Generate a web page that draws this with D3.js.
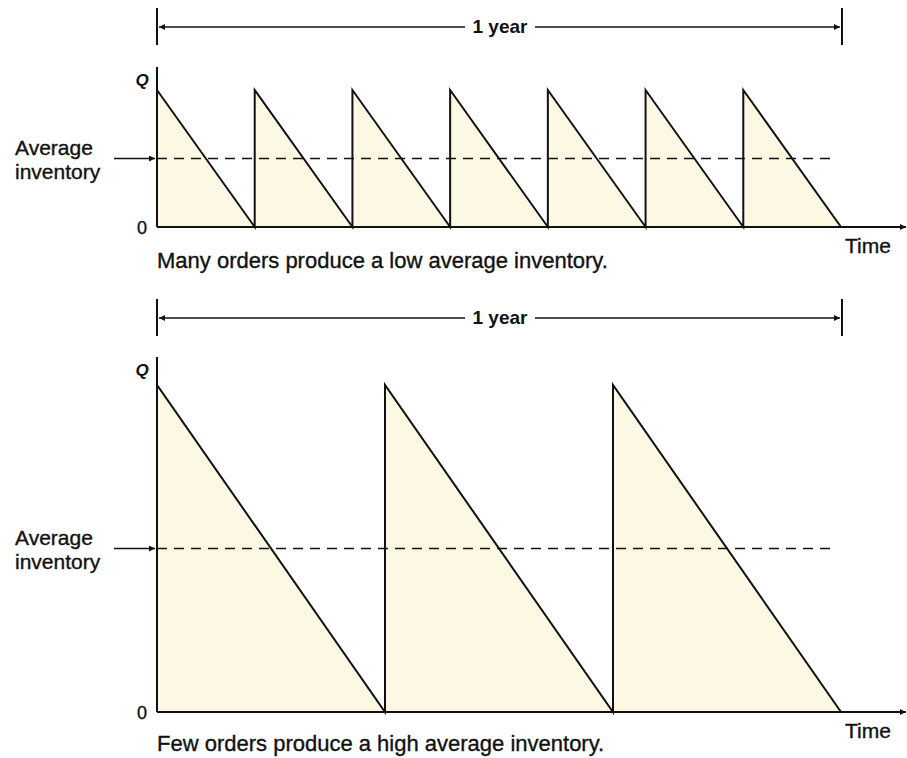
<!DOCTYPE html>
<html>
<head>
<meta charset="utf-8">
<script src="https://cdn.jsdelivr.net/npm/d3@7"></script>
<style>
body{margin:0;background:#fff;}
svg text{font-family:"Liberation Sans",Arial,sans-serif;fill:#111;stroke:#111;stroke-width:0.35;}
</style>
</head>
<body>
<svg id="chart" width="907" height="758"></svg>
<script>
// Data
const orderQuantity = 1;            // Q (normalized)
const topCycleStarts = [0, 1, 2, 3, 4, 5, 6];   // 7 orders per year
const bottomCycleStarts = [0, 1, 2];            // 3 orders per year
const topCycles = 7;
const bottomCycles = 3;
const averageLevel = orderQuantity / 2;
const captions = ["Many orders produce a low average inventory.", "Few orders produce a high average inventory."];
const yearLabel = "1 year";
const avgLabel = ["Average", "inventory"];

const svg = d3.select("#chart");
const defs = svg.append("defs");
defs.append("marker").attr("id","ah").attr("viewBox","0 0 10 10").attr("refX",10).attr("refY",5)
  .attr("markerWidth",10).attr("markerHeight",6).attr("orient","auto-start-reverse").attr("markerUnits","userSpaceOnUse")
  .append("path").attr("d","M0,0L10,5L0,10z").attr("fill","#111");

const fillColor = "#fcf8e4";
const ink = "#111";

function panel(cfg) {
  const g = svg.append("g");
  const x = d3.scaleLinear().domain([0, cfg.cycles]).range([157, 841]);
  const y = d3.scaleLinear().domain([0, orderQuantity]).range([cfg.zeroY, cfg.peakY]);

  // bracket
  g.append("line").attr("x1",157).attr("x2",157).attr("y1",cfg.bracketY-19).attr("y2",cfg.bracketY+18).attr("stroke",ink).attr("stroke-width",2);
  g.append("line").attr("x1",842).attr("x2",842).attr("y1",cfg.bracketY-19).attr("y2",cfg.bracketY+18).attr("stroke",ink).attr("stroke-width",2);
  g.append("line").attr("x1",465).attr("x2",159).attr("y1",cfg.bracketY).attr("y2",cfg.bracketY).attr("stroke",ink).attr("stroke-width",1.5).attr("marker-end","url(#ah)");
  g.append("line").attr("x1",535).attr("x2",840).attr("y1",cfg.bracketY).attr("y2",cfg.bracketY).attr("stroke",ink).attr("stroke-width",1.5).attr("marker-end","url(#ah)");
  g.append("text").attr("x",500).attr("y",cfg.bracketY+6).attr("text-anchor","middle").attr("font-size",19).attr("font-weight","bold").style("stroke-width",0).text(yearLabel);

  // fills
  const area = d3.area().x(d=>x(d[0])).y0(y(0)).y1(d=>y(d[1]));
  g.selectAll("path.fill").data(cfg.starts).join("path").attr("class","fill")
    .attr("d", s => area([[s, orderQuantity],[s+1, 0]])).attr("fill", fillColor);

  // sawtooth line
  const pts = [];
  cfg.starts.forEach(s => { pts.push([s, 0]); pts.push([s, orderQuantity]); pts.push([s+1, 0]); });
  g.append("path").attr("d", d3.line().x(d=>x(d[0])).y(d=>y(d[1]))(pts))
    .attr("fill","none").attr("stroke",ink).attr("stroke-width",2).attr("stroke-linejoin","miter");

  // average dashed
  const ay = y(averageLevel);
  g.append("line").attr("x1",x(0)).attr("x2",832).attr("y1",ay).attr("y2",ay)
    .attr("stroke",ink).attr("stroke-width",1.7).attr("stroke-dasharray","10,7");
  // average arrow
  g.append("line").attr("x1",114).attr("x2",155).attr("y1",ay).attr("y2",ay)
    .attr("stroke",ink).attr("stroke-width",1.5).attr("marker-end","url(#ah)");
  g.append("text").attr("x",15).attr("y",ay-4).attr("font-size",21).text(avgLabel[0]);
  g.append("text").attr("x",15).attr("y",ay+20).attr("font-size",21).text(avgLabel[1]);

  // axes
  g.append("line").attr("x1",x(0)).attr("x2",x(0)).attr("y1",y(0)).attr("y2",cfg.axisTop).attr("stroke",ink).attr("stroke-width",2);
  g.append("line").attr("x1",x(0)).attr("x2",906).attr("y1",y(0)).attr("y2",y(0)).attr("stroke",ink).attr("stroke-width",2).attr("marker-end","url(#ah)");
  g.append("text").attr("x",142).attr("y",y(0)+7).attr("text-anchor","middle").attr("font-size",18).text("0");
  g.append("text").attr("x",142).attr("y",cfg.axisTop+19).attr("text-anchor","middle").attr("font-size",17).attr("font-weight","bold").attr("font-style","italic").style("stroke-width",0).text("Q");
  g.append("text").attr("x",845).attr("y",y(0)+26).attr("font-size",21).text("Time");
  g.append("text").attr("x",157).attr("y",cfg.captionY).attr("font-size",22).text(cfg.caption);
}

panel({cycles: topCycles, starts: topCycleStarts, zeroY: 227, peakY: 90, axisTop: 67, bracketY: 27, captionY: 268, caption: captions[0]});
panel({cycles: bottomCycles, starts: bottomCycleStarts, zeroY: 712, peakY: 385, axisTop: 357, bracketY: 318, captionY: 751, caption: captions[1]});
</script>
</body>
</html>
